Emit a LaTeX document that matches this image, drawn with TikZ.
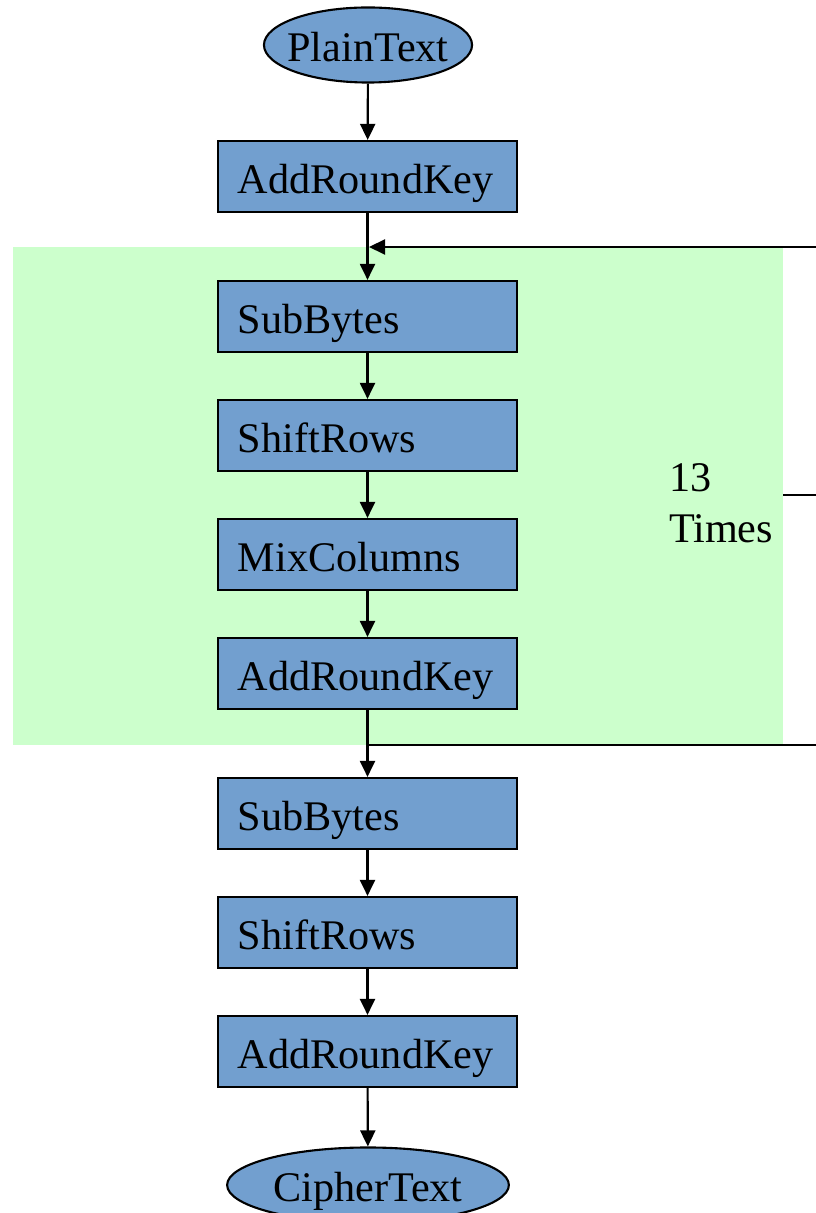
\documentclass[tikz,border=0pt]{standalone}
\usepackage{fontspec}
\setmainfont{Liberation Serif}
\usetikzlibrary{shapes.geometric,arrows.meta}
\definecolor{boxblue}{HTML}{729FCF}
\definecolor{loopgreen}{HTML}{CCFFCC}
\begin{document}
\begin{tikzpicture}[x=0.01cm,y=-0.01cm,
  font=\fontsize{12}{14.5}\selectfont,
  line width=0.6pt,
  stepbox/.style={draw=black, fill=boxblue, rectangle, minimum width=2.99cm, minimum height=0.71cm,
    text width=2.59cm, inner xsep=0.2cm, inner ysep=0pt, align=left,
    text height=0.42cm, text depth=0.09cm},
  endpoint/.style={draw=black, fill=boxblue, ellipse, inner ysep=0pt,
    text height=0.42cm, text depth=0.09cm, minimum height=0.75cm},
  arr/.style={-{Triangle[length=0.16cm,width=0.15cm]}}]
\useasboundingbox (0,0) rectangle (815,1213);
\fill[loopgreen] (13,247) rectangle (783,745);
\node[endpoint, inner xsep=-0.07cm] (pt) at (368,45) {PlainText};
\node[stepbox] (ark0) at (367.5,176.5) {AddRoundKey};
\node[stepbox] (sb1) at (367.5,316.5) {SubBytes};
\node[stepbox] (sr1) at (367.5,435.5) {ShiftRows};
\node[stepbox] (mc1) at (367.5,554.5) {MixColumns};
\node[stepbox] (ark1) at (367.5,673.5) {AddRoundKey};
\node[stepbox] (sb2) at (367.5,813.5) {SubBytes};
\node[stepbox] (sr2) at (367.5,932.5) {ShiftRows};
\node[stepbox] (ark2) at (367.5,1051.5) {AddRoundKey};
\node[endpoint, inner xsep=0.05cm] (ct) at (368,1185) {CipherText};
\node[align=left, anchor=west, inner sep=0pt] (times) at (668,503) {13\\Times};
\coordinate (loopbot) at (369,745);
\coordinate (looptop) at (369,247);
\coordinate (tick) at (783,495);
\coordinate (tickend) at (820,495);
\draw[arr] (pt) -- (ark0);
\draw[arr] (ark0) -- (sb1);
\draw[arr] (sb1) -- (sr1);
\draw[arr] (sr1) -- (mc1);
\draw[arr] (mc1) -- (ark1);
\draw[arr] (ark1) -- (sb2);
\draw[arr] (sb2) -- (sr2);
\draw[arr] (sr2) -- (ark2);
\draw[arr] (ark2) -- (ct);
\draw[arr] (loopbot) -- (820,745) -- (820,247) -- (looptop);
\draw (tick) -- (tickend);
\end{tikzpicture}
\end{document}
